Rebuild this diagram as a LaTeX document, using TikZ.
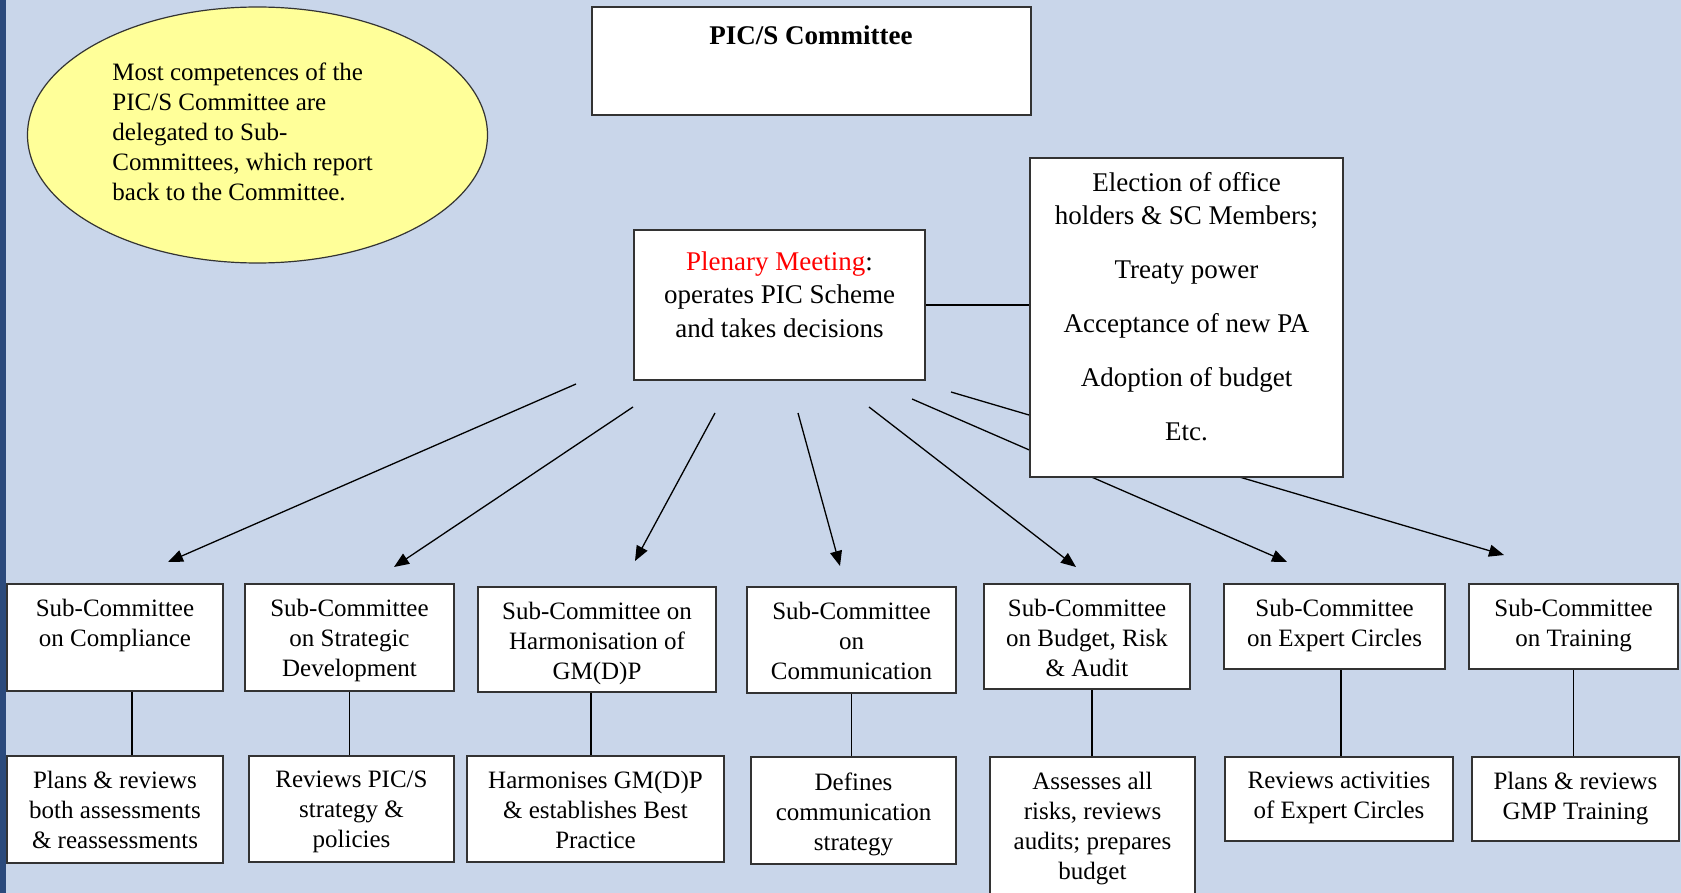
\documentclass[tikz,border=0pt]{standalone}
\usepackage{fontspec}
\setmainfont{Liberation Serif}
\usetikzlibrary{arrows.meta,positioning,shapes.geometric}

\definecolor{bgblue}{HTML}{C9D6EA}
\definecolor{barblue}{HTML}{2B4A7C}
\definecolor{noteyellow}{HTML}{FFFF99}
\definecolor{edgegray}{HTML}{333333}

\begin{document}
\begin{tikzpicture}[x=0.5pt, y=-0.5pt,
  box/.style={draw=edgegray, line width=1pt, fill=white, inner sep=0pt},
  txt/.style={align=center, inner sep=0pt, anchor=north, font=\fontsize{12.5}{15}\selectfont},
  bigtxt/.style={align=center, inner sep=0pt, anchor=north, font=\fontsize{13.5}{16.75}\selectfont},
  arr/.style={-{Triangle[length=7.5pt,width=6pt]}, line width=0.65pt},
  link/.style={line width=0.65pt}]
  % page
  \useasboundingbox (0,0) rectangle (1681,893);
  \clip (0,0) rectangle (1681,893);
  \fill[bgblue] (0,0) rectangle (1681,893);
  \fill[barblue] (0,0) rectangle (6,893);

  % note and committee
  \node[ellipse, draw=edgegray, line width=0.6pt, fill=noteyellow, inner sep=0pt,
        minimum width=230pt, minimum height=128pt] (note) at (257.5,135) {};
  \node[align=left, inner sep=0pt, anchor=west, font=\fontsize{12.5}{15}\selectfont] (notetxt) at (112,132)
    {Most competences of the\\PIC/S Committee are\\delegated to Sub-\\Committees, which report\\back to the Committee.};
  \node[box, minimum width=219.5pt, minimum height=54pt] (comm) at (811.5,61) {};
  \node[font=\fontsize{13.5}{16}\selectfont\bfseries, inner sep=0pt] (commtxt) at (811,35) {PIC/S Committee};

  % arrows to the sub-committees (drawn before the powers box)
  \coordinate (from1) at (576,384);  \coordinate (to1) at (168,562);
  \coordinate (from2) at (633,407);  \coordinate (to2) at (394,567);
  \coordinate (from3) at (715,413);  \coordinate (to3) at (635,561);
  \coordinate (from4) at (798,413);  \coordinate (to4) at (840,566);
  \coordinate (from5) at (869,407);  \coordinate (to5) at (1076,567);
  \coordinate (from6) at (912,399);  \coordinate (to6) at (1287,562);
  \coordinate (from7) at (951,392);  \coordinate (to7) at (1504,555);
  \foreach \i in {1,...,7}
    \draw[arr] (from\i) -- (to\i);

  % plenary and its powers
  \node[box, minimum width=145.5pt, minimum height=74.5pt] (plen) at (779.5,305) {};
  \node[bigtxt] (plentxt) at ([yshift=-10.8pt]plen.north)
    {\textcolor{red}{Plenary Meeting}:\\operates PIC Scheme\\and takes decisions};
  \node[box, minimum width=156.5pt, minimum height=159.5pt] (powers) at (1186.5,317.5) {};
  \node[bigtxt] (powerstxt) at ([yshift=-7.5pt]powers.north)
    {Election of office\\holders \& SC Members;\\[10.25pt]Treaty power\\[10.25pt]Acceptance of new PA\\[10.25pt]Adoption of budget\\[10.25pt]Etc.};
  \draw[link] (plen.east) -- (plen.east -| powers.west);

  % sub-committees
  \node[box, minimum width=108pt, minimum height=53.5pt] (sc1) at (115,637.5) {};
  \node[box, minimum width=104.5pt, minimum height=53.5pt] (sc2) at (349.5,637.5) {};
  \node[box, minimum width=119pt, minimum height=52.5pt] (sc3) at (597,639.5) {};
  \node[box, minimum width=104.5pt, minimum height=53pt] (sc4) at (851.5,640) {};
  \node[box, minimum width=103pt, minimum height=52.5pt] (sc5) at (1087,636.5) {};
  \node[box, minimum width=110.5pt, minimum height=42.5pt] (sc6) at (1334.5,626.5) {};
  \node[box, minimum width=104.5pt, minimum height=42.5pt] (sc7) at (1573.5,626.5) {};
  \node[txt] (sc1txt) at ([yshift=-8pt]sc1.north) {Sub-Committee\\on Compliance};
  \node[txt] (sc2txt) at ([yshift=-8pt]sc2.north) {Sub-Committee\\on Strategic\\Development};
  \node[txt] (sc3txt) at ([yshift=-8pt]sc3.north) {Sub-Committee on\\Harmonisation of\\GM(D)P};
  \node[txt] (sc4txt) at ([yshift=-8pt]sc4.north) {Sub-Committee\\on\\Communication};
  \node[txt] (sc5txt) at ([yshift=-8pt]sc5.north) {Sub-Committee\\on Budget, Risk\\\& Audit};
  \node[txt] (sc6txt) at ([yshift=-8pt]sc6.north) {Sub-Committee\\on Expert Circles};
  \node[txt] (sc7txt) at ([yshift=-8pt]sc7.north) {Sub-Committee\\on Training};

  % their tasks
  \node[box, minimum width=108pt, minimum height=53.5pt] (t1) at (115,809.5) {};
  \node[box, minimum width=102.5pt, minimum height=53pt] (t2) at (351.5,809) {};
  \node[box, minimum width=128.5pt, minimum height=53pt] (t3) at (595.5,809) {};
  \node[box, minimum width=102.5pt, minimum height=53.5pt] (t4) at (853.5,810.5) {};
  \node[box, minimum width=102.5pt, minimum height=74pt] (t5) at (1092.5,831) {};
  \node[box, minimum width=114pt, minimum height=42pt] (t6) at (1339,799) {};
  \node[box, minimum width=103.5pt, minimum height=42pt] (t7) at (1575.5,799) {};
  \node[txt] (t1txt) at ([yshift=-8pt]t1.north) {Plans \& reviews\\both assessments\\\& reassessments};
  \node[txt] (t2txt) at ([yshift=-8pt]t2.north) {Reviews PIC/S\\strategy \&\\policies};
  \node[txt] (t3txt) at ([yshift=-8pt]t3.north) {Harmonises GM(D)P\\\& establishes Best\\Practice};
  \node[txt] (t4txt) at ([yshift=-8pt]t4.north) {Defines\\communication\\strategy};
  \node[txt] (t5txt) at ([yshift=-8pt]t5.north) {Assesses all\\risks, reviews\\audits; prepares\\budget};
  \node[txt] (t6txt) at ([yshift=-8pt]t6.north) {Reviews activities\\of Expert Circles};
  \node[txt] (t7txt) at ([yshift=-8pt]t7.north) {Plans \& reviews\\GMP Training};

  % sub-committee to task
  \draw[link] ([xshift=8.5pt]sc1.south) -- ([xshift=8.5pt]sc1.south |- t1.north);
  \draw[link] (sc2.south) -- (sc2.south |- t2.north);
  \draw[link] ([xshift=-3pt]sc3.south) -- ([xshift=-3pt]sc3.south |- t3.north);
  \draw[link] (sc4.south) -- (sc4.south |- t4.north);
  \draw[link] ([xshift=2.5pt]sc5.south) -- ([xshift=2.5pt]sc5.south |- t5.north);
  \draw[link] ([xshift=3.25pt]sc6.south) -- ([xshift=3.25pt]sc6.south |- t6.north);
  \draw[link] (sc7.south) -- (sc7.south |- t7.north);
\end{tikzpicture}
\end{document}
